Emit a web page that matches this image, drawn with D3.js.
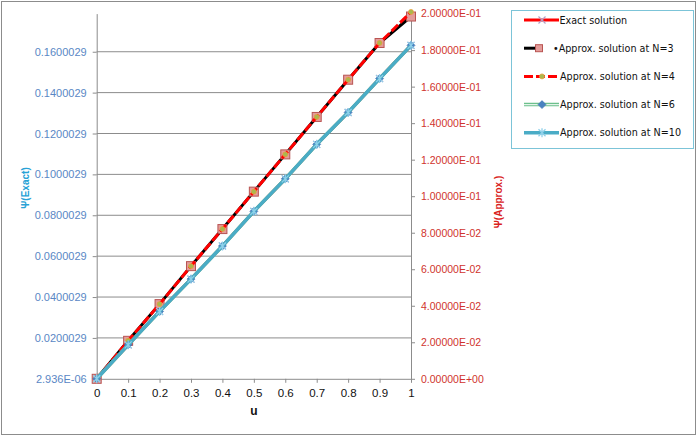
<!DOCTYPE html>
<html>
<head>
<meta charset="utf-8">
<script src="https://cdn.jsdelivr.net/npm/d3@7"></script>
<style>
  body { margin: 0; background: #fff; }
</style>
</head>
<body>
<div id="chart"></div>
<script>
// values
const u = [0, 0.1, 0.2, 0.3, 0.4, 0.5, 0.6, 0.7, 0.8, 0.9, 1];
const exact = [0.0000029, 0.0166, 0.0330, 0.0488, 0.0650, 0.0819, 0.0978, 0.1147, 0.1303, 0.1469, 0.1631];
const approxN3 = [0, 0.0208, 0.0409, 0.0617, 0.0820, 0.1025, 0.1229, 0.1434, 0.1638, 0.1839, 0.1984];
const approxN4 = [0, 0.0208, 0.0409, 0.0617, 0.0820, 0.1025, 0.1229, 0.1434, 0.1638, 0.1839, 0.2009];
const approxN6 = [0, 0.0186, 0.0369, 0.0546, 0.0727, 0.0917, 0.1095, 0.1284, 0.1459, 0.1644, 0.1826];
const approxN10 = [0, 0.0186, 0.0369, 0.0546, 0.0727, 0.0917, 0.1095, 0.1284, 0.1459, 0.1644, 0.1826];

const xTicks = [0, 0.1, 0.2, 0.3, 0.4, 0.5, 0.6, 0.7, 0.8, 0.9, 1];
const leftTickValues = [0.000002936, 0.020002936, 0.040002936, 0.060002936, 0.080002936,
  0.100002936, 0.120002936, 0.140002936, 0.160002936];
const leftTickLabels = ["2.936E-06", "0.0200029", "0.0400029", "0.0600029", "0.0800029",
  "0.1000029", "0.1200029", "0.1400029", "0.1600029"];
const rightTickValues = [0, 0.02, 0.04, 0.06, 0.08, 0.1, 0.12, 0.14, 0.16, 0.18, 0.2];
const rightTickLabels = ["0.00000E+00", "2.00000E-02", "4.00000E-02", "6.00000E-02", "8.00000E-02",
  "1.00000E-01", "1.20000E-01", "1.40000E-01", "1.60000E-01", "1.80000E-01", "2.00000E-01"];
const legendNames = ["Exact solution", "\u2022Approx. solution at N=3", "Approx. solution at N=4",
  "Approx. solution at N=6", "Approx. solution at N=10"];

const W = 700, H = 442;
const plot = { left: 96.7, right: 411, top: 13.6, bottom: 378.8 };
const sans = "'Liberation Sans', Arial, sans-serif";

const svg = d3.select("#chart").append("svg")
  .attr("width", W).attr("height", H)
  .style("font-family", sans);

svg.append("rect")
  .attr("x", 1.5).attr("y", 1.5).attr("width", 694).attr("height", 433)
  .attr("fill", "#fff").attr("stroke", "#8c8c8c");

const x = d3.scaleLinear().domain([0, 1]).range([plot.left, plot.right]);
const yLeft = d3.scaleLinear().domain([0.000002936, 0.17866]).range([plot.bottom, plot.top]);
const yRight = d3.scaleLinear().domain([0, 0.2]).range([plot.bottom, plot.top]);

// gridlines from the left axis
svg.append("g").selectAll("line")
  .data(leftTickValues.slice(1))
  .join("line")
  .attr("x1", plot.left).attr("x2", plot.right)
  .attr("y1", d => yLeft(d)).attr("y2", d => yLeft(d))
  .attr("stroke", "#8c8c8c").attr("stroke-width", 1);

function styleAxis(g, color, size) {
  g.select(".domain").attr("stroke", "#8c8c8c");
  g.selectAll(".tick line").attr("stroke", "#8c8c8c");
  g.selectAll(".tick text").attr("fill", color).style("font-size", size + "px")
    .style("font-family", sans);
}

const leftAxis = svg.append("g")
  .attr("transform", `translate(${plot.left},0)`)
  .call(d3.axisLeft(yLeft).tickValues(leftTickValues)
    .tickFormat((d, i) => leftTickLabels[i]).tickSize(4).tickSizeOuter(0).tickPadding(6));
styleAxis(leftAxis, "#5a87c5", 11);

const rightAxis = svg.append("g")
  .attr("transform", `translate(${plot.right},0)`)
  .call(d3.axisRight(yRight).tickValues(rightTickValues)
    .tickFormat((d, i) => rightTickLabels[i]).tickSize(4).tickSizeOuter(0).tickPadding(6));
styleAxis(rightAxis, "#d0332d", 10.5);

const bottomAxis = svg.append("g")
  .attr("transform", `translate(0,${plot.bottom})`)
  .call(d3.axisBottom(x).tickValues(xTicks).tickFormat(d3.format("")).tickSize(4).tickSizeOuter(0).tickPadding(6));
styleAxis(bottomAxis, "#111", 11.5);

// axis titles
svg.append("text")
  .attr("transform", "translate(29,188) rotate(-90)")
  .attr("text-anchor", "middle").attr("font-weight", "bold").attr("font-size", 10)
  .attr("fill", "#27a2d6").text("\u03A8(Exact)");
svg.append("text")
  .attr("transform", "translate(502,202) rotate(-90)")
  .attr("text-anchor", "middle").attr("font-weight", "bold").attr("font-size", 10)
  .attr("fill", "#d9221c").text("\u03A8(Approx.)");
svg.append("text")
  .attr("x", 254).attr("y", 415).attr("text-anchor", "middle")
  .attr("font-weight", "bold").attr("font-size", 12).attr("fill", "#111").text("u");

// marker drawing helpers
const markers = {
  cross(g, s) {
    g.append("path").attr("d", `M${-s},${-s}L${s},${s}M${-s},${s}L${s},${-s}`)
      .attr("stroke", "#b1a0c7").attr("stroke-width", 1.2).attr("fill", "none");
  },
  square(g, s) {
    g.append("rect").attr("x", -s).attr("y", -s).attr("width", 2 * s).attr("height", 2 * s)
      .attr("fill", "#e39c9a").attr("stroke", "#b95452").attr("stroke-width", 1);
  },
  circle(g, s) {
    g.append("circle").attr("r", s * 0.55)
      .attr("fill", "#a8b94e").attr("stroke", "#e8a03c").attr("stroke-width", 0.8);
  },
  diamond(g, s) {
    g.append("path").attr("d", `M0,${-s}L${s},0L0,${s}L${-s},0Z`)
      .attr("fill", "#4a82c0").attr("stroke", "#3c70b0").attr("stroke-width", 0.6);
  },
  asterisk(g, s) {
    g.append("path")
      .attr("d", `M${-s},${-s}L${s},${s}M${-s},${s}L${s},${-s}M0,${-s - 1}L0,${s + 1}`)
      .attr("stroke", "#8fd0ea").attr("stroke-width", 1.3).attr("fill", "none");
  }
};

const series = [
  { values: exact, y: yLeft, color: "#ff0000", width: 3, dash: null, marker: "cross", ms: 3.5 },
  { values: approxN3, y: yRight, color: "#000000", width: 3, dash: null, marker: "square", ms: 4.5 },
  { values: approxN4, y: yRight, color: "#ff0000", width: 3, dash: "9,3", marker: "circle", ms: 4.5 },
  { values: approxN6, y: yRight, color: "#6cc08c", width: 3.5, dash: null, marker: "diamond", ms: 4, inner: "#e3f4e9" },
  { values: approxN10, y: yRight, color: "#4aacc6", width: 3.5, dash: null, marker: "asterisk", ms: 3.5 }
];

const plotG = svg.append("g");
series.forEach(s => {
  const pts = u.map((d, i) => [d, s.values[i]]);
  const line = d3.line().x(d => x(d[0])).y(d => s.y(d[1]));
  plotG.append("path").datum(pts)
    .attr("d", line).attr("fill", "none")
    .attr("stroke", s.color).attr("stroke-width", s.width)
    .attr("stroke-dasharray", s.dash).attr("stroke-linejoin", "round");
  if (s.inner) {
    plotG.append("path").datum(pts)
      .attr("d", line).attr("fill", "none")
      .attr("stroke", s.inner).attr("stroke-width", 1.2);
  }
  pts.forEach(p => {
    const g = plotG.append("g").attr("transform", `translate(${x(p[0])},${s.y(p[1])})`);
    markers[s.marker](g, s.ms);
  });
});

// legend
const legend = svg.append("g");
legend.append("rect")
  .attr("x", 511.5).attr("y", 10.5).attr("width", 182).attr("height", 138)
  .attr("fill", "#fff").attr("stroke", "#7cc4d8").attr("stroke-width", 1);

series.forEach((s, i) => {
  const cy = 20 + i * 28.2;
  const g = legend.append("g");
  if (i === 1) {
    g.append("line").attr("x1", 524).attr("x2", 537).attr("y1", cy).attr("y2", cy)
      .attr("stroke", s.color).attr("stroke-width", s.width);
  } else {
    g.append("line").attr("x1", 524).attr("x2", 559).attr("y1", cy).attr("y2", cy)
      .attr("stroke", s.color).attr("stroke-width", s.width).attr("stroke-dasharray", s.dash);
    if (s.inner) {
      g.append("line").attr("x1", 524).attr("x2", 559).attr("y1", cy).attr("y2", cy)
        .attr("stroke", s.inner).attr("stroke-width", 1.2);
    }
  }
  const mg = g.append("g").attr("transform", `translate(${i === 1 ? 539 : 542},${cy})`);
  markers[s.marker](mg, i === 1 ? 3.5 : s.ms);
  g.append("text")
    .attr("x", i === 1 ? 553 : (i === 0 ? 559.5 : 560)).attr("y", cy + 3.5)
    .style("font-family", "'DejaVu Sans', sans-serif").style("font-size", "9.6px")
    .attr("fill", "#111").text(legendNames[i]);
});
</script>
</body>
</html>
